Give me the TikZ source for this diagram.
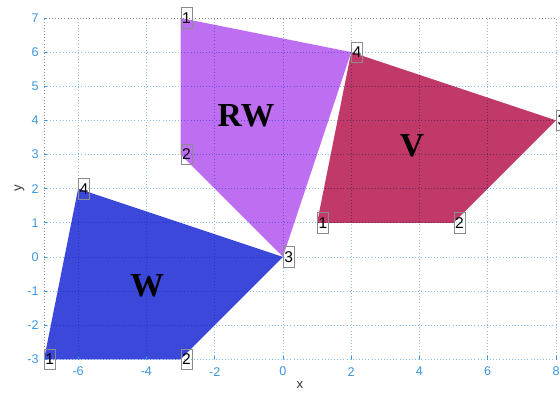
\documentclass[tikz,border=0pt]{standalone}
\usepackage{fontspec}
\setmainfont{Liberation Serif}
\setsansfont{Liberation Sans}
\definecolor{tickblue}{HTML}{3C96DC}
\definecolor{wblue}{HTML}{3B48D9}
\definecolor{rwpurple}{HTML}{BE6EF0}
\definecolor{vred}{HTML}{C03968}
\begin{document}
\begin{tikzpicture}[x=1cm,y=1cm,
  ticklab/.style={font=\sffamily\fontsize{10.5}{12}\selectfont, text=tickblue, inner sep=0pt},
  vlabel/.style={draw=black!45, line width=0.5pt, anchor=west, font=\sffamily\fontsize{13}{14}\selectfont, inner xsep=1pt, inner ysep=0pt, minimum height=17pt, minimum width=9pt},
  big/.style={font=\bfseries\fontsize{28}{30}\selectfont, inner sep=0pt},
  gridline/.style={tickblue!60, dotted, line width=0.6pt},
  axisgray/.style={black!45, dotted, line width=0.6pt},
  axlab/.style={font=\sffamily\fontsize{11}{12}\selectfont, text=black!80, inner sep=0pt}]
\useasboundingbox (-8.289,-3.967) rectangle (8.117,7.527);
% vertices
\coordinate (w1) at (-7,-3); \coordinate (w2) at (-3,-3); \coordinate (w3) at (0,0); \coordinate (w4) at (-6,2);
\coordinate (r1) at (-3,7); \coordinate (r2) at (-3,3); \coordinate (r3) at (0,0); \coordinate (r4) at (2,6);
\coordinate (v1) at (1,1); \coordinate (v2) at (5,1); \coordinate (v3) at (8,4); \coordinate (v4) at (2,6);
% polygons
\fill[wblue] (w1) -- (w2) -- (w3) -- (w4) -- cycle;
\fill[rwpurple] (r1) -- (r2) -- (r3) -- (r4) -- cycle;
\fill[vred] (v1) -- (v2) -- (v3) -- (v4) -- cycle;
% grid
\begin{scope}[blend mode=multiply]
\foreach \gx in {-6,-4,...,8} \draw[gridline] (\gx,-3) -- (\gx,7);
\foreach \gy in {-2,...,6} \draw[gridline] (-7,\gy) -- (8,\gy);
\draw[gridline] (-7,-3) -- (8,-3);
\end{scope}
\draw[axisgray] (-7,-3) -- (-7,7) -- (8,7);
% ticks
\foreach \gx in {-6,-4,...,8} \draw[tickblue, line width=0.5pt] (\gx,-3) -- (\gx,-2.9);
\foreach \gy in {-3,...,7} \draw[tickblue, line width=0.5pt] (-7,\gy) -- (-6.9,\gy);
% tick labels
\foreach \gx in {-6,-4,...,8} \node[ticklab] (xt\gx) at (\gx,-3.36) {\gx};
\foreach \gy in {-3,...,7} \node[ticklab, anchor=east] (yt\gy) at (-7.15,\gy) {\gy};
\node[axlab] (xlab) at (0.5,-3.76) {x};
\node[axlab, rotate=90] (ylab) at (-7.72,2) {y};
% big labels
\node[big] (lw) at (-3.98,-0.85) {W};
\node[big] (lrw) at (-1.08,4.13) {RW};
\node[big] (lv) at (3.78,3.25) {V};
% vertex labels
\node[vlabel] (nw1) at (w1) {1};
\node[vlabel] (nw2) at (w2) {2};
\node[vlabel] (nw3) at (w3) {3};
\node[vlabel] (nw4) at (w4) {4};
\node[vlabel] (nr1) at (r1) {1};
\node[vlabel] (nr2) at (r2) {2};
\node[vlabel] (nr4) at (r4) {4};
\node[vlabel] (nv1) at (v1) {1};
\node[vlabel] (nv2) at (v2) {2};
\node[vlabel] (nv3) at (v3) {3};
\end{tikzpicture}
\end{document}
